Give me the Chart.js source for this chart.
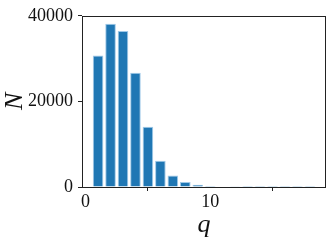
<!DOCTYPE html>
<html><head><meta charset="utf-8">
<script src="https://cdn.jsdelivr.net/npm/chart.js@4/dist/chart.umd.min.js"></script>
<style>html,body{margin:0;padding:0;background:#fff}#wrap{width:332px;height:241px}</style>
</head><body><div id="wrap"><canvas id="c" width="332" height="241"></canvas></div>
<script>
const qValues = [1,2,3,4,5,6,7,8,9,10,11,12,13,14,15,16,17,18];
const counts = [30700,38150,36450,26700,14080,6120,2680,1150,550,230,100,50,20,10,5,2,1,1];
const xTicks = [0,10];
const yTicks = [0,20000,40000];

const frame = {
  id:'frame',
  afterDraw(chart){
    const a = chart.chartArea, ctx = chart.ctx;
    ctx.save(); ctx.strokeStyle='#222'; ctx.lineWidth=1;
    ctx.strokeRect(Math.round(a.left)+0.5, Math.round(a.top)+0.5, Math.round(a.right-a.left)-1, Math.round(a.bottom-a.top));
    ctx.restore();
  }
};
const serif = 'Liberation Serif, Times New Roman, serif';
const tickFont = {family:serif, size:18};
new Chart(document.getElementById('c'), {
  type:'bar',
  data:{datasets:[{
    data: qValues.map((q,i)=>({x:q,y:counts[i]})),
    backgroundColor:'#1f77b4',
    borderColor:'rgba(150,195,230,0.9)',
    borderWidth:1,
    barPercentage:0.85,
    categoryPercentage:1
  }]},
  options:{
    responsive:false, animation:false,
    layout:{padding:{top:12,right:6,left:0,bottom:0}},
    plugins:{legend:{display:false},tooltip:{enabled:false}},
    scales:{
      x:{type:'linear', min:-0.29, max:19.29, offset:false,
        afterBuildTicks(s){s.ticks = xTicks.map(v=>({value:v}));},
        afterFit(s){s.height=54;},
        grid:{display:true, drawOnChartArea:false, drawTicks:true, tickLength:4, color:'#222'},
        border:{display:false},
        ticks:{font:tickFont, color:'#111', padding:0, maxRotation:0, callback:v=>String(v)},
        title:{display:true, text:'q', font:{family:serif, size:26, style:'italic'}, color:'#111', padding:0}
      },
      y:{min:0, max:40000,
        afterBuildTicks(s){s.ticks = yTicks.map(v=>({value:v}));},
        afterFit(s){s.width=82;},
        grid:{display:true, drawOnChartArea:false, drawTicks:true, tickLength:4, color:'#222'},
        border:{display:false},
        ticks:{font:tickFont, color:'#111', padding:5, callback:v=>String(v)},
        title:{display:true, text:'N', font:{family:serif, size:26, style:'italic'}, color:'#111', padding:0}
      }
    }
  },
  plugins:[frame]
});
</script></body></html>
